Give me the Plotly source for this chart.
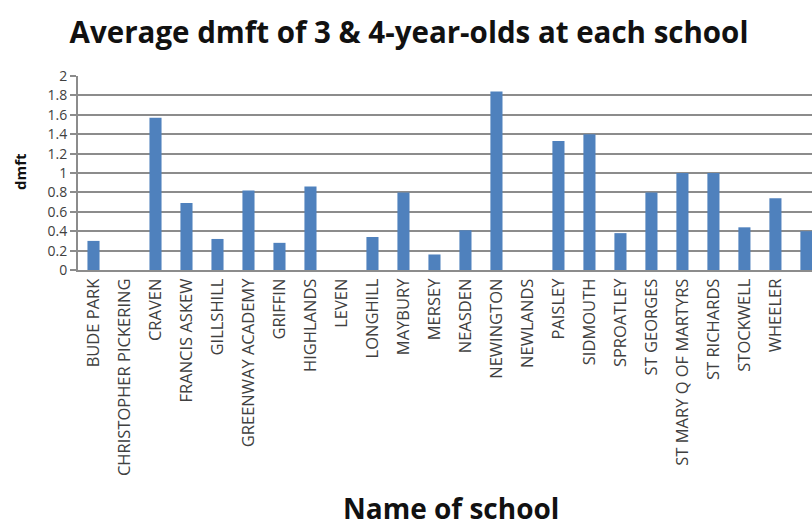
import plotly.graph_objects as go

schools = ["BUDE PARK", "CHRISTOPHER PICKERING", "CRAVEN", "FRANCIS ASKEW", "GILLSHILL",
           "GREENWAY ACADEMY", "GRIFFIN", "HIGHLANDS", "LEVEN", "LONGHILL", "MAYBURY",
           "MERSEY", "NEASDEN", "NEWINGTON", "NEWLANDS", "PAISLEY", "SIDMOUTH", "SPROATLEY",
           "ST GEORGES", "ST MARY Q OF MARTYRS", "ST RICHARDS", "STOCKWELL", "WHEELER",
           "HEDON INMANS"]
dmft = [0.30, 0, 1.57, 0.69, 0.32, 0.82, 0.28, 0.86, 0, 0.34, 0.80,
        0.16, 0.41, 1.84, 0, 1.33, 1.40, 0.38, 0.80, 1.00, 1.00, 0.44, 0.74, 0.40]
y_ticks = [0, 0.2, 0.4, 0.6, 0.8, 1, 1.2, 1.4, 1.6, 1.8, 2]
y_tick_text = ["0", "0.2", "0.4", "0.6", "0.8", "1", "1.2", "1.4", "1.6", "1.8", "2"]

fig = go.Figure(go.Bar(x=list(range(len(schools))), y=dmft, marker_color="#4F81BD",
                       marker_line_width=0, width=0.39))

grid = "#8C8C8C"
fig.update_layout(
    width=812, height=529,
    margin=dict(l=78, r=0, t=76, b=259),
    plot_bgcolor="white", paper_bgcolor="white",
    showlegend=False,
    font=dict(family="Open Sans", color="#404040"),
    title=dict(text="<b>Average dmft of 3 &amp; 4-year-olds at each school</b>",
               x=409 / 812, xref="container", xanchor="center", y=1 - 33 / 529, yanchor="middle",
               font=dict(size=29.5, color="#111111", family="Open Sans")),
    xaxis=dict(tickmode="array", tickvals=list(range(len(schools))), ticktext=schools,
               tickangle=-90, range=[-0.5, 23.18], showgrid=False,
               showline=True, linecolor=grid, linewidth=2, ticks="",
               tickfont=dict(size=16.5, color="#404040")),
    yaxis=dict(range=[0, 2], tickmode="array", tickvals=y_ticks, ticktext=y_tick_text,
               showgrid=True, gridcolor=grid, gridwidth=2,
               showline=True, linecolor=grid, linewidth=2,
               ticks="outside", ticklen=6, tickcolor=grid, tickwidth=2,
               tickfont=dict(size=14, color="#404040"), zeroline=False),
)

fig.add_annotation(text="<b>Name of school</b>", xref="paper", yref="paper",
                   x=(451 - 78) / (812 - 78), y=-(508 - 270) / 194, showarrow=False,
                   xanchor="center", yanchor="middle",
                   font=dict(size=28, color="#111111", family="Open Sans"))
fig.add_annotation(text="<b>dmft</b>", xref="paper", yref="paper",
                   x=-(78 - 20) / 734, y=(270 - 172) / 194, showarrow=False, textangle=-90,
                   xanchor="center", yanchor="middle",
                   font=dict(size=15, color="#111111", family="Open Sans"))

fig.write_html("out.html")
